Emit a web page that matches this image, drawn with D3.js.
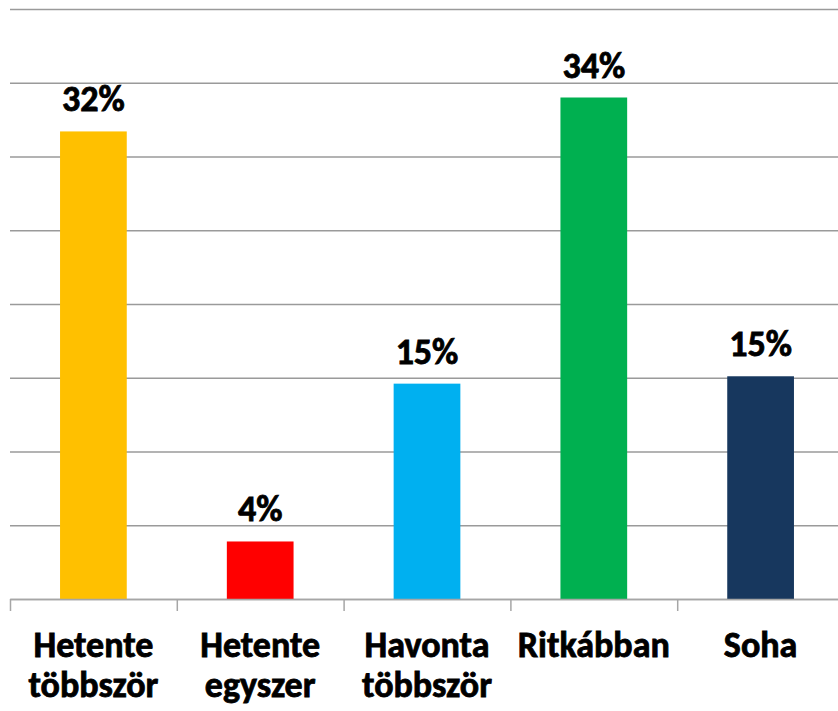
<!DOCTYPE html>
<html lang="hu">

<head>
  <meta charset="UTF-8">
  <title>gyakorisag</title>
  <script src="https://d3js.org/d3.v7.min.js"></script>
  <style>
    body { margin: 0; background: #fff; }
    text { font-family: Carlito, Lato, "Liberation Sans", sans-serif; font-weight: 900; fill: #000; stroke: #000; stroke-width: 0.8px; }
  </style>
</head>

<body>
</body>
<script>
  const WIDTH = 838;
  const HEIGHT = 711;

  const categories = [
    ['Hetente', 'többször'],
    ['Hetente', 'egyszer'],
    ['Havonta', 'többször'],
    ['Ritkábban'],
    ['Soha']
  ];
  const values = [31.7, 3.9, 14.6, 34.0, 15.1];
  const colors = ['#FFC000', '#FF0000', '#00B0F0', '#00B050', '#17375E'];
  const yTicks = [0, 5, 10, 15, 20, 25, 30, 35, 40];

  const x0 = 10, x1 = 844;
  const yTop = 9, yBottom = 599;

  const x = d3.scaleBand()
    .domain(d3.range(values.length))
    .range([x0, x1])
    .paddingInner(0.6)
    .paddingOuter(0.3);

  const xEdges = d3.scaleLinear()
    .domain([0, values.length])
    .range([x0, x1]);

  const y = d3.scaleLinear()
    .domain([0, 40])
    .range([yBottom, yTop]);

  const svg = d3.select('body')
    .append('svg')
    .attr('width', WIDTH)
    .attr('height', HEIGHT);

  // gridlines
  const grid = svg.append('g')
    .attr('transform', `translate(${x0}, 0)`)
    .call(d3.axisLeft(y).tickValues(yTicks).tickSize(-(x1 - x0)).tickFormat(''));
  grid.select('.domain').remove();
  grid.selectAll('line').attr('stroke', '#9a9a9a').attr('stroke-width', 1.5);

  svg.selectAll('rect.bar')
    .data(values)
    .enter()
    .append('rect')
    .attr('class', 'bar')
    .attr('x', (d, i) => x(i))
    .attr('y', d => y(d))
    .attr('width', x.bandwidth())
    .attr('height', d => y(0) - y(d))
    .attr('fill', (d, i) => colors[i]);

  // x axis with tick marks between categories
  const xAxis = svg.append('g')
    .attr('transform', `translate(0, ${yBottom})`)
    .call(d3.axisBottom(xEdges).tickValues(d3.range(values.length + 1)).tickSize(12).tickSizeOuter(0).tickFormat(''));
  xAxis.selectAll('line, path').attr('stroke', '#a6a6a6').attr('stroke-width', 1.5);

  // value labels
  svg.selectAll('text.val')
    .data(values)
    .enter()
    .append('text')
    .attr('class', 'val')
    .attr('x', (d, i) => x(i) + x.bandwidth() / 2)
    .attr('y', d => y(d) - 20)
    .attr('text-anchor', 'middle')
    .style('font-size', '36px')
    .text(d => Math.round(d) + '%');

  // category labels
  const cat = svg.selectAll('text.cat')
    .data(categories)
    .enter()
    .append('text')
    .attr('class', 'cat')
    .attr('text-anchor', 'middle')
    .style('font-size', '36px');

  cat.selectAll('tspan')
    .data((d, i) => d.map(s => ({ s, i })))
    .enter()
    .append('tspan')
    .attr('x', d => x(d.i) + x.bandwidth() / 2)
    .attr('y', (d, j) => 657 + j * 40)
    .text(d => d.s);
</script>

</html>
